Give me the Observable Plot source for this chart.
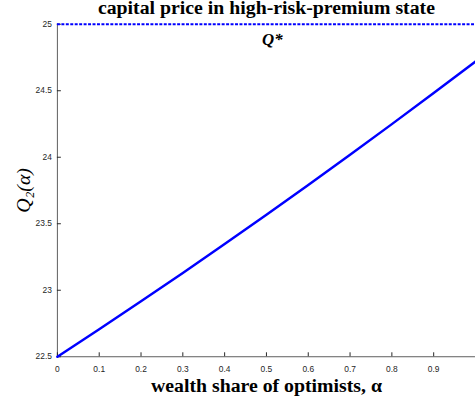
<!DOCTYPE html>
<html><head><meta charset="utf-8">
<script src="https://cdn.jsdelivr.net/npm/d3@7"></script>
<script src="https://cdn.jsdelivr.net/npm/@observablehq/plot@0.6"></script>
<style>
html,body{margin:0;padding:0;overflow:hidden;background:#fff;width:475px;height:404px;}
#chart svg{display:block;}
</style></head><body><div id="chart"></div>
<script>
const alpha = [0, 0.1, 0.2, 0.3, 0.4, 0.5, 0.6, 0.7, 0.8, 0.9, 1.0];
const q2 = [22.5, 22.707, 22.917, 23.130, 23.347, 23.567, 23.791, 24.018, 24.249, 24.483, 24.72];
const qStar = 25;
const xTicks = [0, 0.1, 0.2, 0.3, 0.4, 0.5, 0.6, 0.7, 0.8, 0.9];
const yTicks = [22.5, 23, 23.5, 24, 24.5, 25];
const title = "capital price in high-risk-premium state";
const xLabel = "wealth share of optimists, \u03b1";
const yLabel = "Q\u2082(\u03b1)";
const qStarLabel = "Q*";

const data = alpha.map((a, i) => ({alpha: a, q: q2[i]}));
const serif = "'Liberation Serif', 'Times New Roman', serif";

const chart = Plot.plot({
  width: 480, height: 404,
  marginLeft: 57.5, marginRight: 0, marginTop: 24, marginBottom: 44,
  x: {domain: [0, 1]},
  y: {domain: [yTicks[0], yTicks[yTicks.length - 1]]},
  style: {fontFamily: "'Liberation Sans', Arial, sans-serif", fontSize: "8.5px", color: "#262626", background: "#fff", overflow: "visible"},
  marks: [
    Plot.ruleX([alpha[0]], {stroke: "#333", strokeWidth: 0.8}),
    Plot.ruleY([yTicks[0]], {stroke: "#333", strokeWidth: 0.8}),
    Plot.axisX({ticks: xTicks, tickSize: -4, tickPadding: 13, tickFormat: d => String(d), label: null}),
    Plot.axisY({ticks: yTicks, tickSize: -4, tickPadding: 9.5, tickFormat: d => String(d), label: null}),
    Plot.ruleY([qStar], {stroke: "#0000ff", strokeWidth: 2, strokeDasharray: "3,1.5"}),
    Plot.line(data, {x: "alpha", y: "q", stroke: "#0000ff", strokeWidth: 2.5, curve: "natural"}),
    Plot.text([qStarLabel], {frameAnchor: "top", dx: 6, dy: 21, lineAnchor: "bottom", fontFamily: serif, fontStyle: "italic", fontWeight: "bold", fontSize: 17, fill: "#000"}),
    Plot.text([title], {frameAnchor: "top", dy: -10, lineAnchor: "bottom", fontFamily: serif, fontWeight: "bold", fontSize: 20, fill: "#000"}),
    Plot.text([xLabel], {frameAnchor: "bottom", dy: 36, lineAnchor: "bottom", fontFamily: serif, fontWeight: "bold", fontSize: 20, fill: "#000"}),
    Plot.text([yLabel], {frameAnchor: "left", dx: -34.5, rotate: -90, textAnchor: "middle", lineAnchor: "middle", fontFamily: serif, fontStyle: "italic", fontSize: 20, fill: "#000"})
  ]
});
document.getElementById("chart").append(chart);
</script></body></html>
